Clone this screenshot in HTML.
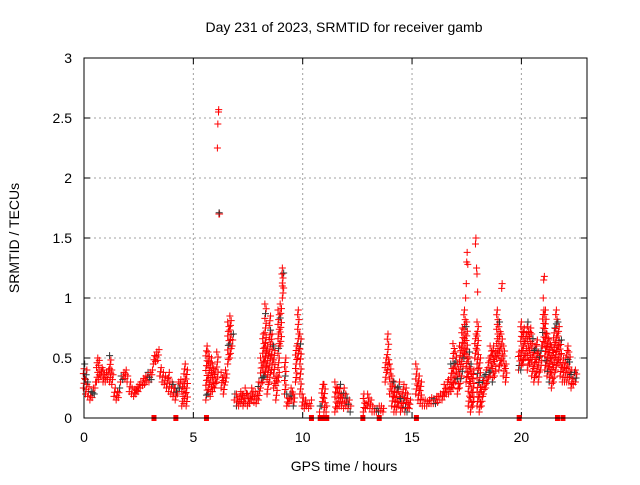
<!DOCTYPE html>
<html><head><meta charset="utf-8"><style>
body{margin:0;background:#fff}
svg text{font-family:"Liberation Sans",sans-serif;font-size:14px;fill:#000}
</style></head><body>
<svg id="c" width="640" height="480" xmlns="http://www.w3.org/2000/svg">
<text x="344" y="32" text-anchor="middle">Day 231 of 2023, SRMTID for receiver gamb</text>
<text x="344" y="471" text-anchor="middle">GPS time / hours</text>
<text transform="translate(19,238) rotate(-90)" text-anchor="middle">SRMTID / TECUs</text>
<g id="grid"></g><g id="ticks"></g><g id="marks"></g>
<rect x="84" y="58" width="503" height="360" fill="none" stroke="#000" stroke-width="1"/>
</svg>
<script>
const xTicks=[0,5,10,15,20];
const yTicks=[0,0.5,1,1.5,2,2.5,3];
const yTickLabels=["0","0.5","1","1.5","2","2.5","3"];
const tStart=0, tStep=0.1;
const lo=[.25,.2,.18,.15,.17,.2,.3,.32,.35,.3,
.3,.32,.3,.28,.18,.15,.17,.3,.32,.33,
.3,.22,.2,.18,.2,.22,.25,.27,.28,.3,
.3,.32,.45,.47,.48,.35,.3,.28,.25,.22,
.2,.18,.15,.2,.25,.1,.12,.1,null,null,
null,null,null,null,null,null,.15,.2,.18,.22,
.25,.3,1.7,.25,.2,.3,.45,.5,.6,.15,
.1,.1,.12,.1,.12,.1,.12,.15,.13,.12,
.15,.25,.3,.35,.2,.3,.4,.25,.15,.3,
.6,1.0,.2,.1,.12,.15,.1,.3,.5,.2,
.1,.08,.1,.08,.1,null,null,null,.05,.1,
.05,.05,null,null,null,.05,.08,.1,.1,.08,
.1,.08,.05,null,null,null,null,null,.05,.08,
.1,.08,.05,.05,.05,.05,.06,.05,.3,.4,
.2,.1,.05,.05,.1,.05,.08,.05,.05,.08,
null,null,.2,.15,.12,.1,.1,.1,.12,.12,
.12,.12,.13,.15,.15,.18,.2,.2,.22,.25,
.3,.2,.25,.35,.5,.3,.1,.05,.1,.5,
.1,.05,.1,.2,.25,.3,.35,.3,.35,.5,
.4,.45,.35,.3,null,null,null,null,null,.4,
.4,.45,.5,.4,.45,.35,.3,.35,.3,.4,
.6,.4,.35,.3,.25,.3,.4,.45,.35,.3,
.3,.3,.3,.25,.28,.3];
const hi=[.45,.4,.3,.22,.25,.3,.5,.48,.42,.4,
.38,.4,.52,.4,.25,.22,.25,.35,.38,.4,
.35,.3,.25,.24,.26,.28,.3,.33,.35,.38,
.38,.4,.52,.55,.57,.42,.38,.35,.33,.38,
.3,.28,.25,.3,.32,.3,.45,.4,null,null,
null,null,null,null,null,null,.6,.55,.5,.45,
.4,.55,1.7,.38,.35,.4,.8,.85,.7,.2,
.2,.18,.22,.2,.25,.2,.2,.25,.22,.2,
.3,.5,.7,.95,.6,.85,.7,.6,.35,.9,
.95,1.25,.5,.2,.2,.25,.2,.6,.9,.7,
.2,.15,.12,.12,.15,null,null,null,.1,.28,
.28,.1,null,null,null,.3,.25,.28,.2,.25,
.2,.15,.1,null,null,null,null,null,.2,.12,
.2,.15,.1,.08,.08,.1,.1,.08,.5,.7,
.45,.35,.3,.25,.3,.2,.28,.25,.2,.15,
null,null,.45,.35,.3,.15,.15,.14,.15,.17,
.16,.18,.18,.2,.22,.28,.3,.32,.45,.62,
.55,.45,.6,.75,.9,.8,.55,.45,.4,.7,
.8,.5,.3,.35,.4,.5,.6,.6,.55,.9,
.8,.7,.6,.45,null,null,null,null,null,.55,
.8,.75,.7,.8,.75,.7,.6,.65,.55,.6,
.9,.9,.7,.65,.6,.75,.9,.8,.65,.5,
.5,.6,.55,.4,.38,.4];
const spikeX=[6.1,6.12,6.15,6.16,6.18,17.45,17.48,17.5,17.52,17.55,17.9,17.92,17.95,17.97,18.0,9.05,9.07,19.1,19.12,21.0,21.02,21.05];
const spikeY=[2.25,2.45,2.55,2.57,1.71,1.0,1.12,1.3,1.38,1.28,1.45,1.5,1.25,1.2,1.05,1.2,1.1,1.08,1.12,1.0,1.15,1.18];
const zeroX=[3.2,4.2,5.6,10.4,10.8,10.95,11.1,12.75,13.5,15.2,19.9,21.65,21.9];
const X0=84,X1=587,Y0=418,Y1=58,xMax=23,yMax=3;
const sx=v=>X0+(X1-X0)*v/xMax, sy=v=>Y0-(Y0-Y1)*v/yMax;
const NS="http://www.w3.org/2000/svg";
const mk=(t,a,p)=>{const e=document.createElementNS(NS,t);for(const k in a)e.setAttribute(k,a[k]);p.appendChild(e);return e;};
const grid=document.getElementById('grid'),ticks=document.getElementById('ticks'),marks=document.getElementById('marks');
xTicks.forEach(v=>{const x=sx(v);
 if(v>0){const g=mk('line',{x1:x,x2:x,y1:Y1,y2:Y0,stroke:'#a0a0a0','stroke-dasharray':'2,3'},grid);
 
 }
 mk('line',{x1:x,x2:x,y1:Y0,y2:Y0-6,stroke:'#000'},ticks);mk('line',{x1:x,x2:x,y1:Y1,y2:Y1+6,stroke:'#000'},ticks);
 const t=mk('text',{x:x,y:Y0+24,'text-anchor':'middle'},ticks);t.textContent=v;
 
 });
yTicks.forEach((v,i)=>{const y=sy(v);
 if(v>0&&v<3){const g=mk('line',{x1:X0,x2:X1,y1:y,y2:y,stroke:'#a0a0a0','stroke-dasharray':'2,3'},grid);
 
 }
 mk('line',{x1:X0,x2:X0+6,y1:y,y2:y,stroke:'#000'},ticks);mk('line',{x1:X1,x2:X1-6,y1:y,y2:y,stroke:'#000'},ticks);
 const t=mk('text',{x:X0-12,y:y+5,'text-anchor':'end'},ticks);t.textContent=yTickLabels[i];
 
 });
function plus(x,y,col){const p=mk('path',{d:`M${x-3.5},${y}h7M${x},${y-3.5}v7`,stroke:col,'stroke-width':1},marks);
 
 }
lo.forEach((l,i)=>{const h=hi[i];if(l==null)return;const t=tStart+i*tStep;
 const n=Math.max(1,Math.round((h-l)/0.04));
 for(let k=0;k<=n;k++){const v=l+(h-l)*k/n;const tt=t+((k%3)-1)*0.03;
  plus(sx(tt),sy(v),((i+k)%13==5)?'#333':'#f00');}});
spikeX.forEach((t,i)=>plus(sx(t),sy(spikeY[i]),i==4?'#333':'#f00'));
zeroX.forEach(t=>{const r=mk('rect',{x:sx(t)-2.5,y:Y0-3,width:5,height:6,fill:'#f00'},marks);
 
 });
</script>
</body></html>
